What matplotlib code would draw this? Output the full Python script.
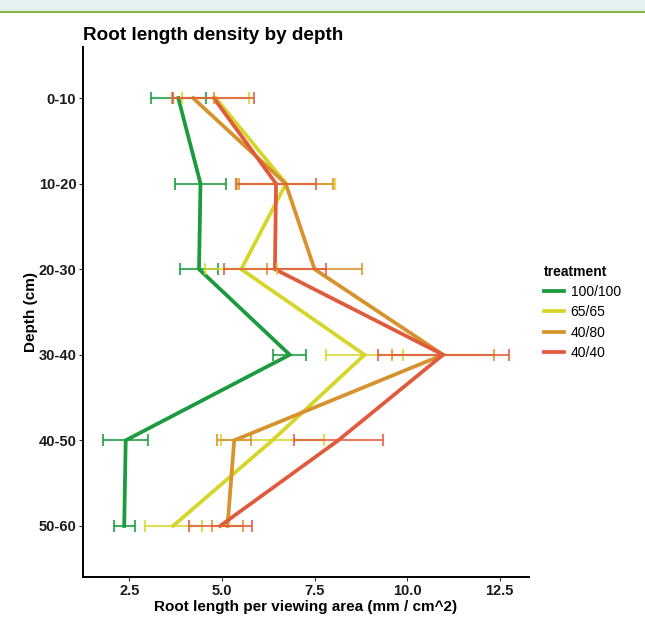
import numpy as np
import matplotlib.pyplot as plt
from matplotlib.patches import Rectangle
from matplotlib.lines import Line2D

plt.rcParams["font.family"] = ["Liberation Sans", "DejaVu Sans"]

depths = ["0-10", "10-20", "20-30", "30-40", "40-50", "50-60"]
treatments = ["100/100", "65/65", "40/80", "40/40"]
colors = ["#1b9a3e", "#d6d62a", "#d8922c", "#e05a3c"]

# mean root length density per depth band
mean_100_100 = [3.82, 4.42, 4.38, 6.83, 2.40, 2.36]
mean_65_65 = [4.83, 6.73, 5.52, 8.85, 6.36, 3.68]
mean_40_80 = [4.22, 6.72, 7.50, 10.97, 5.33, 5.15]
mean_40_40 = [4.78, 6.46, 6.43, 10.97, 8.14, 4.95]

# standard errors
se_100_100 = [0.74, 0.68, 0.50, 0.45, 0.60, 0.28]
se_65_65 = [0.90, 1.32, 0.97, 1.04, 1.39, 0.77]
se_40_80 = [0.56, 1.27, 1.29, 1.38, 0.46, 0.42]
se_40_40 = [1.09, 1.08, 1.37, 1.77, 1.20, 0.85]

means = np.array([mean_100_100, mean_65_65, mean_40_80, mean_40_40])
ses = np.array([se_100_100, se_65_65, se_40_80, se_40_40])

fig = plt.figure(figsize=(6.45, 6.4), dpi=100)
ax = fig.add_axes([0.129, 0.098, 0.691, 0.829])

# slide header strip
fig.patches.append(Rectangle((0, 0.981), 1, 0.019, transform=fig.transFigure,
                             facecolor="#e3f1f1", edgecolor="none"))
fig.lines.append(Line2D([0, 1], [0.981, 0.981], transform=fig.transFigure,
                        color="#86b84a", lw=1.5))

y = np.arange(1, len(depths) + 1)
for name, col, m in zip(treatments, colors, means):
    ax.plot(m, y, color=col, lw=2.7, label=name, zorder=3,
            solid_joinstyle="miter")
for col, m, s in zip(colors, means, ses):
    ax.errorbar(m, y, xerr=s, fmt="none", ecolor=col, elinewidth=1.5,
                capsize=4.5, capthick=1.5, alpha=0.8, zorder=4)

lo = (means - ses).min()
hi = (means + ses).max()
pad = (hi - lo) * 0.05
ax.set_xlim(lo - pad, hi + pad)
ax.set_ylim(len(depths) + 0.6, 0.4)

ax.set_yticks(y)
ax.set_yticklabels(depths)
ax.set_xticks([2.5, 5.0, 7.5, 10.0, 12.5])
ax.set_xticklabels(["2.5", "5.0", "7.5", "10.0", "12.5"])
for lab in ax.get_xticklabels() + ax.get_yticklabels():
    lab.set_fontweight("bold")
    lab.set_fontsize(10.5)
    lab.set_color("#1a1a1a")
ax.tick_params(length=3, width=0.8, color="#333333", pad=2)

for side in ("top", "right"):
    ax.spines[side].set_visible(False)
for side in ("left", "bottom"):
    ax.spines[side].set_linewidth(1.4)
    ax.spines[side].set_color("black")

ax.set_xlabel("Root length per viewing area (mm / cm^2)", fontsize=11,
              fontweight="bold", labelpad=1)
ax.set_ylabel("Depth (cm)", fontsize=11, fontweight="bold", labelpad=0)
ax.set_title("Root length density by depth", loc="left", fontsize=13.6,
             fontweight="bold", pad=5)

handles = [Line2D([], [], color=c, lw=2.7) for c in colors]
leg = fig.legend(handles, treatments, title="treatment", loc="upper left",
                 bbox_to_anchor=(0.835, 0.595), frameon=False, fontsize=10,
                 handlelength=1.4, handletextpad=0.5, labelspacing=0.45,
                 borderaxespad=0)
leg.get_title().set_fontweight("bold")
leg.get_title().set_fontsize(10)
leg._legend_box.align = "left"

fig.savefig("out.png", dpi=100)
